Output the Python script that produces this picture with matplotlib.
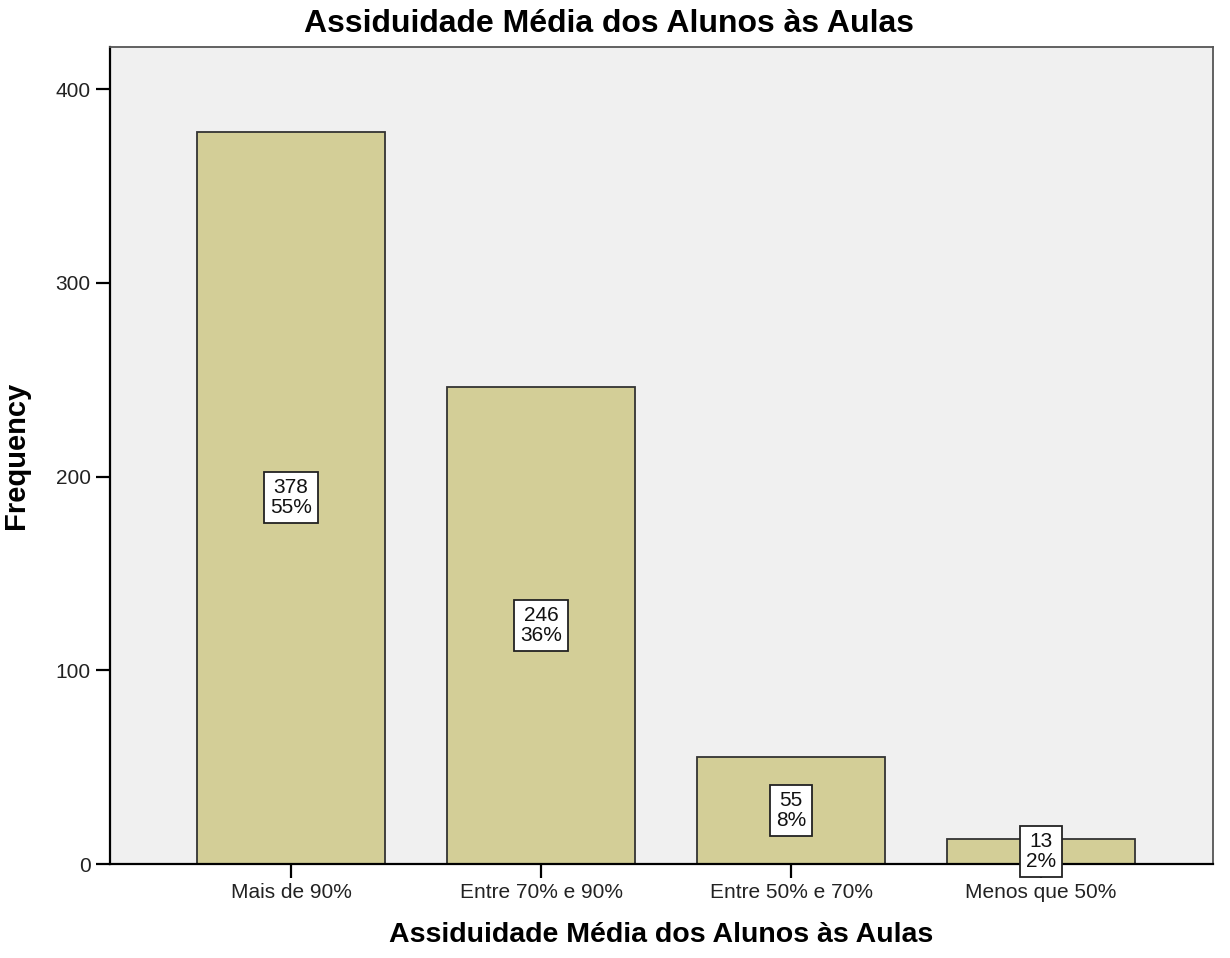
import matplotlib
matplotlib.use("Agg")
import matplotlib.pyplot as plt

categories = ["Mais de 90%", "Entre 70% e 90%", "Entre 50% e 70%", "Menos que 50%"]
counts = [378, 246, 55, 13]
percents = ["55%", "36%", "8%", "2%"]
yticks = [0, 100, 200, 300, 400]

plt.rcParams['font.family'] = ['Liberation Sans', 'DejaVu Sans']

fig = plt.figure(figsize=(12.3, 9.58), dpi=100)
ax = fig.add_axes([110/1230, 94/958, 1103/1230, 817/958])
ax.set_facecolor('#F0F0F0')

x = list(range(len(categories)))
ax.bar(x, counts, width=0.752, color='#D3CE97', edgecolor='#333333', linewidth=1.3, zorder=2)

for xi, c, p in zip(x, counts, percents):
    ax.text(xi, c / 2, f"{c}\n{p}", ha='center', va='center', fontsize=15,
            linespacing=1.05, color='#111111', zorder=5, clip_on=False,
            bbox=dict(boxstyle='square,pad=0.3', facecolor='white', edgecolor='#222222', linewidth=1.3))

ax.set_xlim(-0.724, 3.688)
ax.set_ylim(0, 421.7)
ax.set_xticks(x)
ax.set_xticklabels(categories, fontsize=15)
ax.set_yticks(yticks)
ax.set_yticklabels([str(v) for v in yticks], fontsize=15)
ax.tick_params(axis='both', direction='out', length=10, width=1.6, color='black', pad=4, labelcolor='#222222')

for s in ['left', 'bottom']:
    ax.spines[s].set_color('black')
    ax.spines[s].set_linewidth(1.6)
for s in ['top', 'right']:
    ax.spines[s].set_color('#555555')
    ax.spines[s].set_linewidth(1.3)

fig.text(609/1230, 1 - 24/958, "Assiduidade Média dos Alunos às Aulas", fontsize=23,
         fontweight='bold', ha='center', va='center')
ax.set_xlabel("Assiduidade Média dos Alunos às Aulas", fontsize=20.5, fontweight='bold', labelpad=14)
ax.set_ylabel("Frequency", fontsize=21, fontweight='bold', labelpad=18)

fig.savefig("out.png", dpi=100)
